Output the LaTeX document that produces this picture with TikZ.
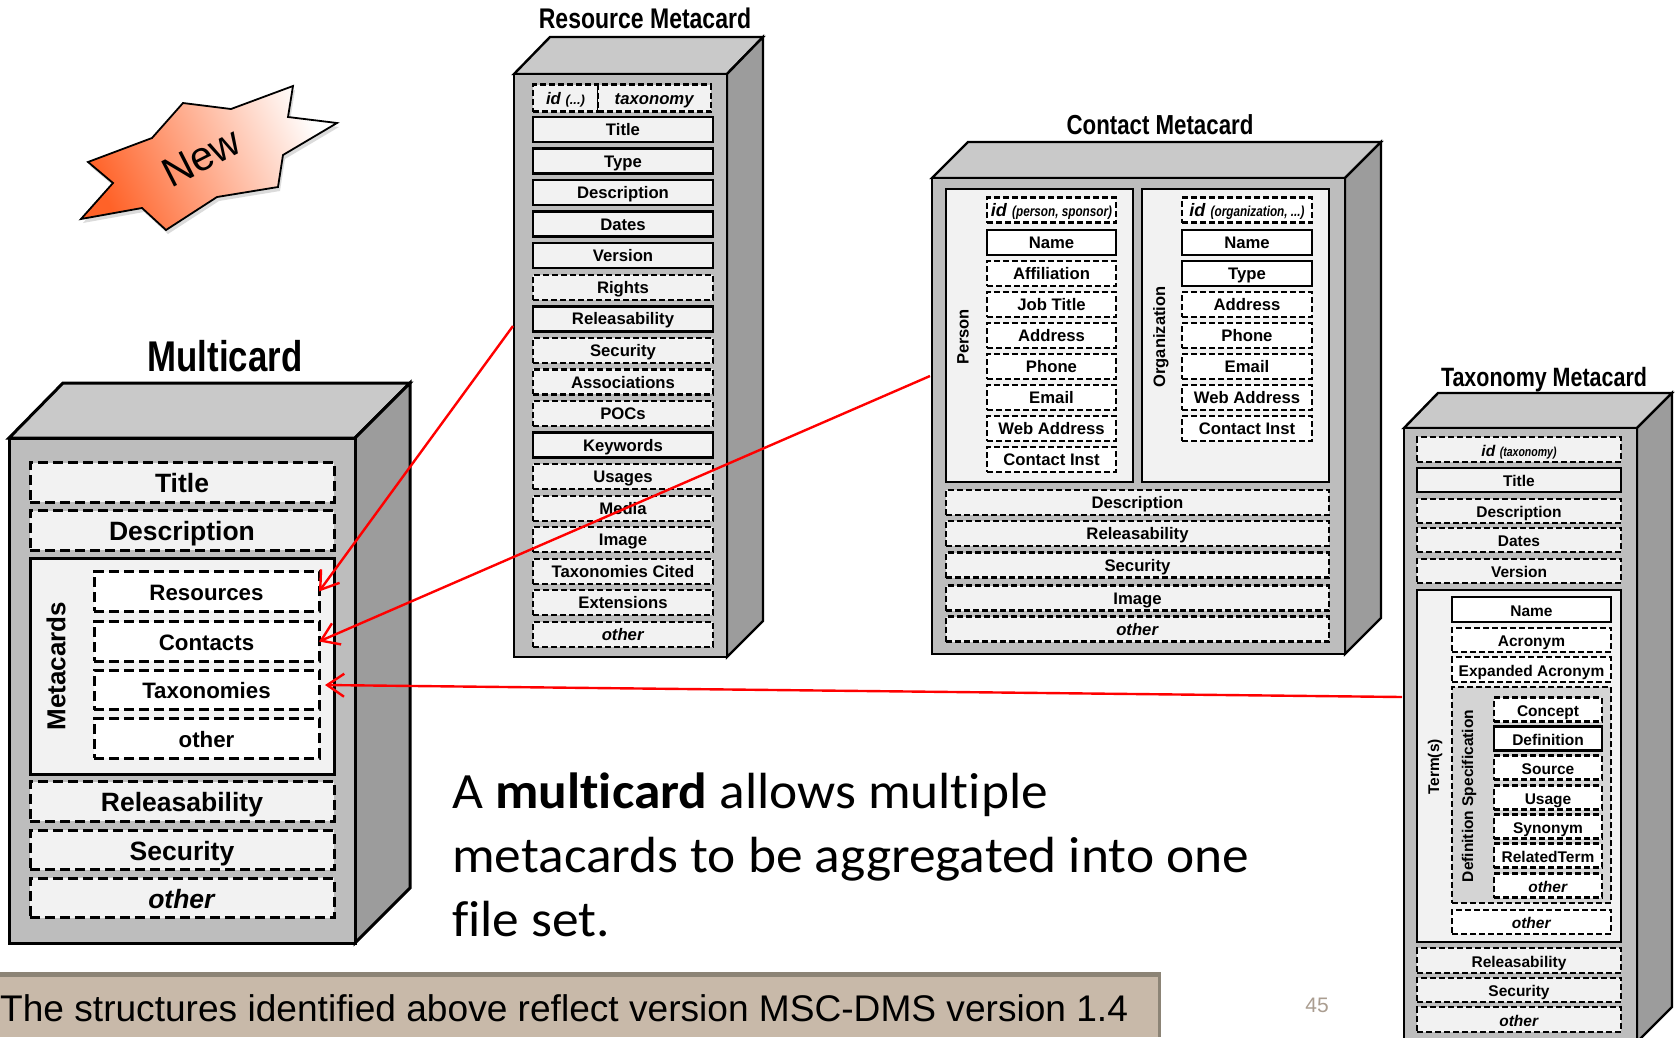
\documentclass[tikz,border=0pt]{standalone}
\usepackage{fontspec}
\setmainfont{Liberation Sans}
\newfontfamily\narrowfont[FakeStretch=0.81]{Liberation Sans}
\newfontfamily\bodyfont[Ligatures=NoCommon,FakeStretch=1.05]{Carlito}
\usetikzlibrary{arrows.meta}
\definecolor{frontgray}{HTML}{BDBDBD}
\definecolor{topgray}{HTML}{C9C9C9}
\definecolor{sidegray}{HTML}{9C9C9C}
\definecolor{boxfill}{HTML}{F2F2F2}
\definecolor{defgray}{HTML}{D4D4D4}
\definecolor{barfill}{HTML}{C8B9A9}
\definecolor{barshade}{HTML}{8C8476}
\definecolor{newred}{HTML}{FF6228}
\definecolor{newpink}{HTML}{FFBDB3}
\tikzset{
  cardface/.style={draw=black, line width=2.4pt, line join=miter},
  fieldbox/.style={draw=black, rectangle, fill=boxfill, inner sep=0pt, outer sep=0pt, line width=2.4pt, text height=15pt, text depth=2.7pt, font=\fontsize{16.7}{18}\selectfont\bfseries},
  plainbox/.style={fieldbox},
  dashbox/.style={fieldbox, line width=2.2pt, dash pattern=on 6pt off 3pt},
  bigdash/.style={dashbox, line width=3pt, dash pattern=on 10pt off 5pt, text height=25pt, text depth=4.4pt, font=\fontsize{26.5}{28}\selectfont\bfseries},
  whitefill/.style={fill=white},
  taxfont/.style={text height=15.5pt, text depth=2.5pt, font=\fontsize{15.5}{17}\selectfont\bfseries},
  cardtitle/.style={font=\narrowfont\fontsize{27.5}{30}\selectfont\bfseries},
  sidelabel/.style={rotate=90, inner sep=0pt, font=\fontsize{16.5}{18}\selectfont\bfseries},
  redarrow/.style={draw=red, line width=2.4pt, ->, >={Straight Barb[length=17pt,width=23pt]}},
}
\begin{document}
\begin{tikzpicture}[x=1pt,y=-1pt]
  \useasboundingbox (0,0) rectangle (1676,1037);
  %--- New star
  \fill[black!14] (90,166) -- (154,142) -- (185,107) -- (233,113) -- (295,90) -- (290,121) -- (339,127) -- (285,159) -- (280,191) -- (219,201) -- (168,234) -- (144,212) -- (83,223) -- (115,187) -- cycle;
  \shade[draw=black, line width=1.8pt, line join=miter, shading=axis, bottom color=newred, middle color=newpink, top color=white, shading angle=-65]
    (88,162) -- (152,138) -- (183,103) -- (231,109) -- (293,86) -- (288,117) -- (337,123) -- (283,155) -- (278,187) -- (217,197) -- (166,230) -- (142,208) -- (81,219) -- (113,183) -- cycle;
  \node[rotate=27, font=\fontsize{41}{43}\selectfont] (newlabel) at (201.5,157) {New};
  %--- Multicard
  \node[cardtitle, font=\narrowfont\fontsize{43}{45}\selectfont\bfseries] (multititle) at (225,356) {Multicard};
  \draw[cardface, line width=3pt, fill=topgray] (9,438) -- (63,383) -- (410,383) -- (355,438) -- cycle;
  \draw[cardface, line width=3pt, fill=sidegray] (355,438) -- (410,383) -- (410,888) -- (355,943) -- cycle;
  \draw[cardface, line width=3pt, fill=frontgray] (9,438) rectangle (355,943);
  \foreach \name/\lbl/\cy in {mtitle/Title/482.5, mdesc/Description/530.5, mrel/Releasability/801.5, msec/Security/850, mother/\textit{other}/898}
    \node[bigdash, minimum width=304pt, minimum height=39.5pt] (\name) at (182,\cy) {\lbl};
  \node[plainbox, line width=3pt, minimum width=304pt, minimum height=216pt] (mpanel) at (182,666) {};
  \node[sidelabel, font=\fontsize{26}{28}\selectfont\bfseries] (metacards) at (56,666) {Metacards};
  \foreach \name/\lbl/\cy in {resources/Resources/591.5, contacts/Contacts/641.5, taxonomies/Taxonomies/690, mcother/other/738.5}
    \node[bigdash, whitefill, text height=22pt, text depth=5pt, font=\fontsize{22.3}{25}\selectfont\bfseries, minimum width=225pt, minimum height=39.5pt] (\name) at (206.5,\cy) {\lbl};
  %--- Resource Metacard
  \node[cardtitle, font=\narrowfont\fontsize{28.4}{30}\selectfont\bfseries] (restitle) at (645,18) {Resource Metacard};
  \draw[cardface, fill=topgray] (514,74) -- (550,37) -- (763,37) -- (727,74) -- cycle;
  \draw[cardface, fill=sidegray] (727,74) -- (763,37) -- (763,621) -- (727,657) -- cycle;
  \draw[cardface, fill=frontgray] (514,74) rectangle (727,657);
  \node[dashbox, minimum width=65pt, minimum height=27pt] (resid) at (565.5,98) {\textit{id \fontsize{13}{14}\selectfont(...)}};
  \node[dashbox, minimum width=113pt, minimum height=27pt] (restax) at (654.5,98) {\textit{taxonomy}};
  \foreach \i/\lbl/\kind in {0/Title/plainbox, 1/Type/plainbox, 2/Description/plainbox, 3/Dates/plainbox, 4/Version/plainbox, 5/Rights/dashbox, 6/Releasability/plainbox, 7/Security/dashbox, 8/Associations/dashbox, 9/POCs/dashbox, 10/Keywords/plainbox, 11/Usages/dashbox, 12/Media/dashbox, 13/Image/dashbox, 14/Taxonomies Cited/dashbox, 15/Extensions/dashbox, 16/\textit{other}/dashbox}
    \node[\kind, minimum width=180pt, minimum height=25pt] (res\i) at (623,129.5+31.55*\i) {\lbl};
  %--- Contact Metacard
  \node[cardtitle] (contitle) at (1160,125) {Contact Metacard};
  \draw[cardface, fill=topgray] (932,178) -- (968,142) -- (1381,142) -- (1345,178) -- cycle;
  \draw[cardface, fill=sidegray] (1345,178) -- (1381,142) -- (1381,618) -- (1345,654) -- cycle;
  \draw[cardface, fill=frontgray] (932,178) rectangle (1345,654);
  \node[plainbox, minimum width=187pt, minimum height=293pt] (person) at (1039.5,335.5) {};
  \node[plainbox, minimum width=187pt, minimum height=293pt] (organization) at (1235.5,335.5) {};
  \node[sidelabel] (personlabel) at (963,337) {Person};
  \node[sidelabel] (orglabel) at (1161,337) {Organization};
  \node[dashbox, whitefill, minimum width=129pt, minimum height=25pt] (perid) at (1051.5,210) {\fontsize{18}{18}\selectfont\textit{id} {\narrowfont\fontsize{14.5}{16}\selectfont\textit{(person, sponsor)}}};
  \foreach \i/\lbl/\kind in {0/Name/plainbox, 1/Affiliation/dashbox, 2/Job Title/dashbox, 3/Address/dashbox, 4/Phone/dashbox, 5/Email/dashbox, 6/Web Address/dashbox, 7/Contact Inst/dashbox}
    \node[\kind, whitefill, minimum width=129pt, minimum height=25pt] (per\i) at (1051.5,242.5+31*\i) {\lbl};
  \node[dashbox, whitefill, minimum width=130pt, minimum height=25pt] (orgid) at (1247,210) {\fontsize{18}{18}\selectfont\textit{id} {\narrowfont\fontsize{14.5}{16}\selectfont\textit{(organization, ...)}}};
  \foreach \i/\lbl/\kind in {0/Name/plainbox, 1/Type/plainbox, 2/Address/dashbox, 3/Phone/dashbox, 4/Email/dashbox, 5/Web Address/dashbox, 6/Contact Inst/dashbox}
    \node[\kind, whitefill, minimum width=130pt, minimum height=25pt] (org\i) at (1247,242.5+31*\i) {\lbl};
  \foreach \name/\lbl/\cy in {condesc/Description/502.5, conrel/Releasability/533.5, consec/Security/565, conimg/Image/598, conother/\textit{other}/629}
    \node[dashbox, minimum width=383pt, minimum height=25pt] (\name) at (1137.5,\cy) {\lbl};
  %--- Taxonomy Metacard
  \node[cardtitle, font=\narrowfont\fontsize{26.5}{29}\selectfont\bfseries] (taxtitle) at (1544,379.5) {Taxonomy Metacard};
  \draw[cardface, fill=topgray] (1404,428) -- (1438,393) -- (1672,393) -- (1637,428) -- cycle;
  \draw[cardface, fill=sidegray] (1637,428) -- (1672,393) -- (1672,1007) -- (1637,1042) -- cycle;
  \draw[cardface, fill=frontgray] (1404,428) rectangle (1637,1042);
  \node[dashbox, taxfont, minimum width=204pt, minimum height=24.5pt] (taxid) at (1519,449.5) {\textit{id} {\narrowfont\fontsize{13}{15}\selectfont\textit{(taxonomy)}}};
  \foreach \name/\lbl/\kind/\cy in {taxt/Title/plainbox/480, taxdesc/Description/dashbox/511, taxdates/Dates/dashbox/540, taxver/Version/dashbox/571, taxrel/Releasability/dashbox/960.5, taxsec/Security/dashbox/990, taxother/\textit{other}/dashbox/1019.5}
    \node[\kind, taxfont, minimum width=204pt, minimum height=24.5pt] (\name) at (1519,\cy) {\lbl};
  \node[plainbox, minimum width=204pt, minimum height=352pt] (terms) at (1519,766) {};
  \node[sidelabel, font=\fontsize{15.5}{17}\selectfont\bfseries] (termlabel) at (1435,767) {Term(s)};
  \foreach \name/\lbl/\kind/\cy in {tname/Name/plainbox/609.5, tacro/Acronym/dashbox/640, texp/Expanded Acronym/dashbox/669.5, tother/\textit{other}/dashbox/922}
    \node[\kind, whitefill, taxfont, minimum width=159pt, minimum height=24.5pt] (\name) at (1531.5,\cy) {\lbl};
  \node[dashbox, fill=defgray, minimum width=159pt, minimum height=216pt] (defspec) at (1531.5,795) {};
  \node[sidelabel, font=\fontsize{15.5}{17}\selectfont\bfseries] (deflabel) at (1469,796) {Definition Specification};
  \foreach \name/\lbl/\kind/\cy in {dconcept/Concept/dashbox/709.5, ddef/Definition/plainbox/738.5, dsource/Source/dashbox/767.5, dusage/Usage/dashbox/797.5, dsyn/Synonym/dashbox/826.5, drel/RelatedTerm/dashbox/855.5, dother/\textit{other}/dashbox/885.5}
    \node[\kind, whitefill, taxfont, minimum width=108pt, minimum height=24pt] (\name) at (1548,\cy) {\lbl};
  %--- Text and footer
  \node[anchor=west, align=left, inner sep=0pt, font=\bodyfont\fontsize{50.85}{64}\selectfont] (note) at (452,855) {A \textbf{multicard} allows multiple\\metacards to be aggregated into one\\file set.};
  \fill[barshade] (0,972) rectangle (1161,1037);
  \fill[barfill] (0,977) rectangle (1158,1037);
  \node[anchor=west, inner sep=0pt, font=\fontsize{37.1}{39}\selectfont] (footer) at (0,1008) {The structures identified above reflect version MSC-DMS version 1.4};
  \node[text=barfill!85!black, font=\fontsize{21}{23}\selectfont] (pagenum) at (1317,1005) {45};
  %--- Arrows
  \coordinate (resstart) at (513,326);
  \coordinate (constart) at (930,376);
  \coordinate (taxstart) at (1402,697);
  \draw[redarrow] (resstart) -- (resources.east);
  \draw[redarrow] (constart) -- (contacts.east);
  \draw[redarrow] (taxstart) -- ([shift={(6pt,5pt)}]taxonomies.east);
\end{tikzpicture}
\end{document}
